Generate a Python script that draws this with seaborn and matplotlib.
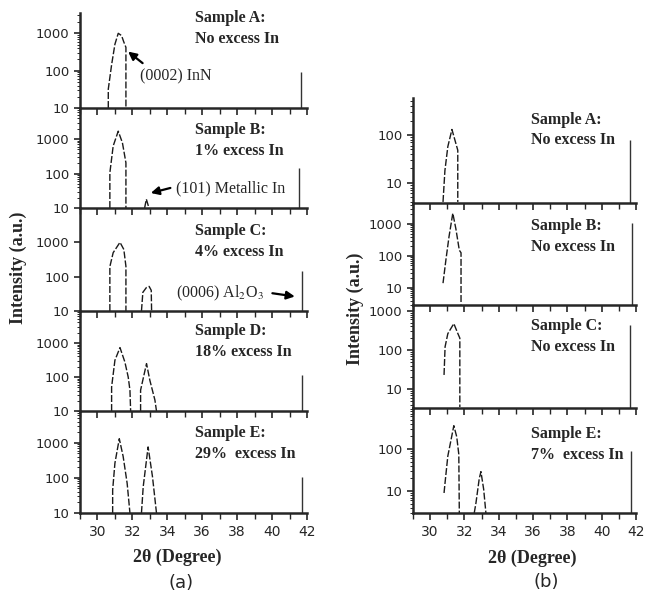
import numpy as np
import pandas as pd
import matplotlib
matplotlib.use("Agg")
import matplotlib.pyplot as plt
import matplotlib.ticker as mticker
import seaborn as sns

sns.set_style("ticks")
plt.rcParams['mathtext.fontset'] = 'stix'

# ---- panel (a): five samples, InN peak (+ metallic In peak) + Al2O3 line
a_A_x = [30.62, 30.62, 30.81, 31.0, 31.19, 31.38, 31.5, 31.63, 31.63]
a_A_y = [10, 32, 144, 510, 1000, 870, 600, 420, 10]
a_B_x = [30.71, 30.71, 30.9, 31.19, 31.43, 31.63, 31.63]
a_B_y = [10, 105, 630, 1700, 780, 205, 10]
a_B2_x = [32.7, 32.8, 32.95]
a_B2_y = [10, 18, 10]
a_C_x = [30.71, 30.71, 30.9, 31.29, 31.51, 31.63, 31.63]
a_C_y = [10, 196, 500, 1000, 620, 200, 10]
a_C2_x = [32.52, 32.6, 32.8, 32.96, 33.08, 33.1]
a_C2_y = [10, 35, 48, 52, 40, 10]
a_D_x = [30.81, 30.81, 31.0, 31.29, 31.57, 31.76, 31.86, 31.9]
a_D_y = [10, 51, 310, 730, 275, 100, 41, 10]
a_D2_x = [32.47, 32.47, 32.62, 32.81, 33.0, 33.29, 33.38]
a_D2_y = [10, 41, 91, 247, 80, 21, 10]
a_E_x = [30.87, 30.87, 31.0, 31.25, 31.47, 31.7, 31.86]
a_E_y = [10, 45, 263, 1300, 410, 70, 10]
a_E2_x = [32.52, 32.62, 32.9, 33.15, 33.38]
a_E2_y = [10, 56, 760, 109, 10]
a_al_x = [41.63, 41.57, 41.7, 41.72, 41.7]
a_al_y = [90, 146, 143, 112, 109]
a_ylim_top = [3500, 8000, 10000, 8700, 8000]
a_labels = ["Sample A:\nNo excess In", "Sample B:\n1% excess In",
            "Sample C:\n4% excess In", "Sample D:\n18% excess In",
            "Sample E:\n29%  excess In"]

# ---- panel (b): four samples
b_A_x = [30.75, 30.86, 31.03, 31.27, 31.44, 31.61, 31.61]
b_A_y = [4, 18, 57, 130, 79, 48, 4]
b_B_x = [30.75, 30.92, 31.1, 31.32, 31.5, 31.7, 31.8, 31.8]
b_B_y = [14, 76, 400, 2150, 700, 150, 125, 3]
b_C_x = [30.81, 30.87, 31.03, 31.38, 31.61, 31.73, 31.73]
b_C_y = [23, 120, 260, 470, 265, 200, 3.5]
b_E_x = [30.81, 30.87, 31.03, 31.38, 31.55, 31.67, 31.7]
b_E_y = [9, 16, 68, 360, 195, 75, 3]
b_E2_x = [32.57, 32.67, 32.86, 32.96, 33.12, 33.25]
b_E2_y = [3, 5.2, 19.6, 29, 11, 3]
b_al_x = [41.65, 41.78, 41.65, 41.72]
b_al_y = [78, 1040, 425, 91]
b_ylim = [(3.8, 590), (2.9, 4500), (3.3, 1400), (3.0, 950)]
b_labels = ["Sample A:\nNo excess In", "Sample B:\nNo excess In",
            "Sample C:\nNo excess In", "Sample E:\n7%  excess In"]

a_peaks = [[(a_A_x, a_A_y)],
           [(a_B_x, a_B_y), (a_B2_x, a_B2_y)],
           [(a_C_x, a_C_y), (a_C2_x, a_C2_y)],
           [(a_D_x, a_D_y), (a_D2_x, a_D2_y)],
           [(a_E_x, a_E_y), (a_E2_x, a_E2_y)]]
b_peaks = [[(b_A_x, b_A_y)], [(b_B_x, b_B_y)], [(b_C_x, b_C_y)],
           [(b_E_x, b_E_y), (b_E2_x, b_E2_y)]]

W, H = 647, 597
fig = plt.figure(figsize=(W / 100, H / 100), dpi=100)

serif = 'Liberation Serif'
sans = 'DejaVu Sans'


def make_rect(left, right, top, bottom):
    return [left / W, 1 - bottom / H, (right - left) / W, (bottom - top) / H]


def style_axis(ax, ylim, bottom):
    ax.set_yscale('log')
    ax.set_ylim(*ylim)
    ax.set_xlim(29, 42)
    ax.set_xlabel('')
    ax.set_ylabel('')
    ax.xaxis.set_major_locator(mticker.MultipleLocator(2))
    ax.xaxis.set_minor_locator(mticker.MultipleLocator(1))
    ax.yaxis.set_major_locator(mticker.FixedLocator([10, 100, 1000]))
    ax.yaxis.set_major_formatter(mticker.FuncFormatter(lambda v, p: f"{v:g}"))
    ax.yaxis.set_minor_locator(mticker.LogLocator(subs=np.arange(2, 10)))
    ax.yaxis.set_minor_formatter(mticker.NullFormatter())
    ax.tick_params(axis='x', which='major', direction='out', length=5, width=1.2,
                   labelbottom=bottom, labelsize=10)
    ax.tick_params(axis='x', which='minor', direction='out', length=4, width=1.0)
    ax.tick_params(axis='y', which='major', direction='out', length=4, width=1.2,
                   labelsize=9.5)
    ax.tick_params(axis='y', which='minor', direction='out', length=2, width=0.7)
    for lab in ax.get_xticklabels() + ax.get_yticklabels():
        lab.set_family(sans)
    for s in ['top', 'right']:
        ax.spines[s].set_visible(False)
    for s in ['left', 'bottom']:
        ax.spines[s].set_linewidth(1.8)
    ax.patch.set_alpha(0)


def draw_panel(left, right, edges, peaks, al_x, al_y, ylims, labels, lab_x, lab_y):
    axes = []
    n = len(peaks)
    for i in range(n):
        ax = fig.add_axes(make_rect(left, right, edges[i], edges[i + 1]))
        rows = []
        for k, (xs, ys) in enumerate(peaks[i]):
            rows += [{'x': x, 'y': y, 'seg': k} for x, y in zip(xs, ys)]
        df = pd.DataFrame(rows)
        sns.lineplot(data=df, x='x', y='y', units='seg', estimator=None,
                     sort=False, color='#1a1a1a', lw=1.0,
                     linestyle=(0, (5, 1.5)), ax=ax)
        ax.vlines(al_x[i], ylims[i][0], al_y[i], color='#333333', lw=1.0)
        style_axis(ax, ylims[i], i == n - 1)
        ax.text(lab_x, lab_y[i], labels[i], transform=ax.transAxes,
                ha='left', va='top', family=serif, weight='bold',
                fontsize=11.5, linespacing=1.4)
        axes.append(ax)
    return axes


a_edges = [13, 108, 208, 311, 411, 513]
b_edges = [98, 203, 305, 408, 513]
a_axes = draw_panel(80, 307, a_edges, a_peaks, a_al_x, a_al_y,
                    [(10, t) for t in a_ylim_top], a_labels, 0.505,
                    [1.03, 0.86, 0.85, 0.88, 0.86])
b_axes = draw_panel(413, 636, b_edges, b_peaks, b_al_x, b_al_y,
                    b_ylim, b_labels, 0.53, [0.87, 0.85, 0.87, 0.83])

# annotations in panel (a)
arrow = dict(arrowstyle='-|>', color='black', lw=1.6, mutation_scale=12)
a_axes[0].annotate('', xy=(31.63, 360), xytext=(32.71, 143), arrowprops=arrow)
a_axes[0].text(32.43, 72, '(0002) InN', family=serif, fontsize=11.5, va='center')
a_axes[1].annotate('', xy=(32.9, 26), xytext=(34.33, 40), arrowprops=arrow)
a_axes[1].text(34.49, 38, '(101) Metallic In', family=serif, fontsize=11.5, va='center')
a_axes[2].annotate('', xy=(41.46, 25.8), xytext=(39.86, 33.8), arrowprops=arrow)
a_axes[2].text(34.52, 33, '(0006) Al$_2$O$_3$', family=serif, fontsize=11.5, va='center')

# axis titles
fig.text(18 / W, 1 - 268 / H, 'Intensity (a.u.)', rotation=90, ha='center',
         va='center', family=serif, weight='bold', fontsize=13)
fig.text(355 / W, 1 - 309 / H, 'Intensity (a.u.)', rotation=90, ha='center',
         va='center', family=serif, weight='bold', fontsize=13)
fig.text(177 / W, 1 - 557 / H, '2θ (Degree)', ha='center', va='center',
         family=serif, weight='bold', fontsize=13)
fig.text(532 / W, 1 - 558 / H, '2θ (Degree)', ha='center', va='center',
         family=serif, weight='bold', fontsize=13)
fig.text(181 / W, 1 - 583 / H, '(a)', ha='center', va='center', family=sans, fontsize=13)
fig.text(546 / W, 1 - 582 / H, '(b)', ha='center', va='center', family=sans, fontsize=13)

fig.savefig('out.png', dpi=100)
